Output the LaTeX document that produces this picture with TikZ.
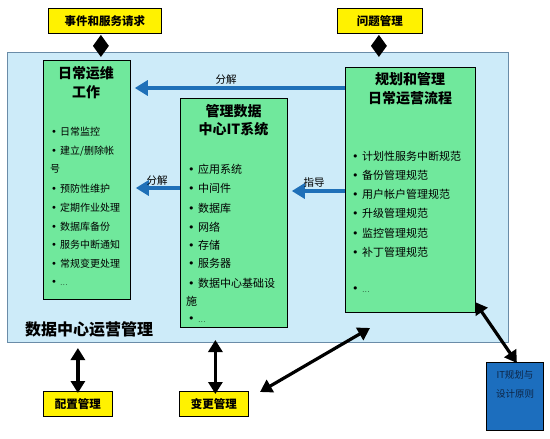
\documentclass[tikz,border=0pt]{standalone}
\usepackage{fontspec}
\setmainfont{Noto Sans CJK SC}
\newfontfamily\bulfont{DejaVu Sans}
\usetikzlibrary{arrows.meta}
\definecolor{bgblue}{HTML}{CDEBF9}
\definecolor{outline}{HTML}{6A8CA8}
\definecolor{boxgreen}{HTML}{70E89C}
\definecolor{arrowblue}{HTML}{1F70B8}
\definecolor{itblue}{HTML}{1C6EBE}
\definecolor{ittext}{HTML}{0D2545}
\newcommand{\bulL}{\makebox[9pt][l]{\bulfont\fontsize{10}{12}\selectfont •}}
\newcommand{\bulM}{\makebox[10pt][l]{\bulfont\fontsize{11}{13}\selectfont •}}
\begin{document}
\begin{tikzpicture}[x=1pt,y=-1pt,
  box/.style={draw=black, line width=0.8pt, anchor=north west, inner sep=0pt},
  greenbox/.style={box, fill=boxgreen},
  yellowbox/.style={box, fill=yellow, font=\fontsize{11.5}{13}\selectfont\bfseries},
  head/.style={font=\fontsize{14}{16}\selectfont\bfseries, inner sep=0pt},
  itemL/.style={anchor=west, inner sep=0pt, font=\fontsize{10}{12}\selectfont},
  itemM/.style={anchor=west, inner sep=0pt, font=\fontsize{11}{13}\selectfont},
  lbl/.style={inner sep=0pt, font=\fontsize{10.5}{12}\selectfont},
  bluearrow/.style={draw=arrowblue, line width=4.5pt, -{Triangle[length=13pt,width=15pt]}},
  blackdbl/.style={draw=black, line width=3.2pt, {Triangle[length=12pt,width=14pt]}-{Triangle[length=12pt,width=14pt]}},
  shortdbl/.style={draw=black, line width=3.5pt, {Triangle[length=11pt,width=15pt]}-{Triangle[length=11pt,width=15pt]}}
]
\useasboundingbox (0,0) rectangle (550,439);
\fill[white] (0,0) rectangle (550,439);

% outer area
\node[draw=outline, fill=bgblue, line width=0.9pt, anchor=north west, inner sep=0pt,
      minimum width=501pt, minimum height=290pt] (outer) at (7,52) {};
\node[anchor=west, inner sep=0pt, font=\fontsize{16}{18}\selectfont\bfseries] (otitle) at (25,329) {数据中心运营管理};

% yellow boxes
\node[yellowbox, minimum width=113pt, minimum height=25pt] (ev) at (48,8) {事件和服务请求};
\node[yellowbox, minimum width=85pt, minimum height=25pt] (prob) at (337,8) {问题管理};
\node[yellowbox, minimum width=69pt, minimum height=25pt] (cfg) at (43,391) {配置管理};
\node[yellowbox, minimum width=69pt, minimum height=25pt] (chg) at (179,391) {变更管理};

% IT box
\node[box, fill=itblue, minimum width=57pt, minimum height=68pt] (itb) at (486,362) {};
\node[inner sep=0pt, text=ittext, font=\fontsize{9.5}{11}\selectfont] (it1) at (515,375) {IT规划与};
\node[inner sep=0pt, text=ittext, font=\fontsize{9.5}{11}\selectfont] (it2) at (515,394) {设计原则};

% green boxes
\node[greenbox, minimum width=87pt, minimum height=239pt] (lbox) at (43,60) {};
\node[greenbox, minimum width=107pt, minimum height=229pt] (mbox) at (180,98) {};
\node[greenbox, minimum width=130pt, minimum height=245pt] (rbox) at (345,67) {};

% left box texts
\node[head] (lh1) at (86,73) {日常运维};
\node[head] (lh2) at (86,92) {工作};
\node[itemL] (l1) at (51,132) {\bulL 日常监控};
\node[itemL] (l2) at (51,151) {\bulL 建立/删除帐};
\node[itemL] (l2b) at (50,169) {号};
\node[itemL] (l3) at (51,189) {\bulL 预防性维护};
\node[itemL] (l4) at (51,208) {\bulL 定期作业处理};
\node[itemL] (l5) at (51,227) {\bulL 数据库备份};
\node[itemL] (l6) at (51,245) {\bulL 服务中断通知};
\node[itemL] (l7) at (51,264) {\bulL 常规变更处理};
\node[itemL] (l8) at (51,283) {\bulL{\fontsize{7}{8}\selectfont …}};

% middle box texts
\node[head] (mh1) at (233.5,111) {管理数据};
\node[head] (mh2) at (233.5,129) {中心IT系统};
\node[itemM] (m1) at (188,169) {\bulM 应用系统};
\node[itemM] (m2) at (188,188) {\bulM 中间件};
\node[itemM] (m3) at (188,208) {\bulM 数据库};
\node[itemM] (m4) at (188,227) {\bulM 网络};
\node[itemM] (m5) at (188,245) {\bulM 存储};
\node[itemM] (m6) at (188,263) {\bulM 服务器};
\node[itemM] (m7) at (188,283) {\bulM 数据中心基础设};
\node[itemM] (m7b) at (186,301) {施};
\node[itemM] (m8) at (188,320) {\bulM{\fontsize{7}{8}\selectfont …}};

% right box texts
\node[head] (rh1) at (410,79) {规划和管理};
\node[head] (rh2) at (410,98) {日常运营流程};
\node[itemM] (r1) at (352,156) {\bulM 计划性服务中断规范};
\node[itemM] (r2) at (352,175) {\bulM 备份管理规范};
\node[itemM] (r3) at (352,194) {\bulM 用户帐户管理规范};
\node[itemM] (r4) at (352,213) {\bulM 升级管理规范};
\node[itemM] (r5) at (352,233) {\bulM 监控管理规范};
\node[itemM] (r6) at (352,252) {\bulM 补丁管理规范};
\node[itemM] (r7) at (352,290) {\bulM{\fontsize{7}{8}\selectfont …}};

% blue arrows
\draw[bluearrow, shorten >=4pt] (rbox.west |- 0,88) -- (lbox.east |- 0,88);
\draw[bluearrow, shorten >=5pt] (mbox.west |- 0,188) -- (lbox.east |- 0,188);
\draw[bluearrow, shorten >=4pt] (rbox.west |- 0,191) -- (mbox.east |- 0,191);
\node[lbl] (a1) at (226,80) {分解};
\node[lbl] (a2) at (157,181) {分解};
\node[lbl] (a3) at (314,183) {指导};

% black arrows
\draw[shortdbl] ([xshift=-4pt,yshift=-1pt]ev.south) -- ([xshift=-4pt]ev.south |- 0,57);
\draw[shortdbl] ([xshift=-1pt,yshift=-1pt]prob.south) -- ([xshift=-1pt]prob.south |- 0,57);
\draw[blackdbl] ([yshift=-2pt]cfg.north) -- (cfg.north |- 0,348);
\draw[blackdbl] ([xshift=1.5pt,yshift=-3pt]chg.north) -- ([xshift=1.5pt]chg.north |- 0,340);
\coordinate (d0) at (260,392);
\coordinate (d1) at (370,328);
\draw[blackdbl] (d0) -- (d1);
\coordinate (d2) at (475,302);
\draw[blackdbl] (d2) -- ([xshift=2pt,yshift=-1pt]itb.north);
\end{tikzpicture}
\end{document}
